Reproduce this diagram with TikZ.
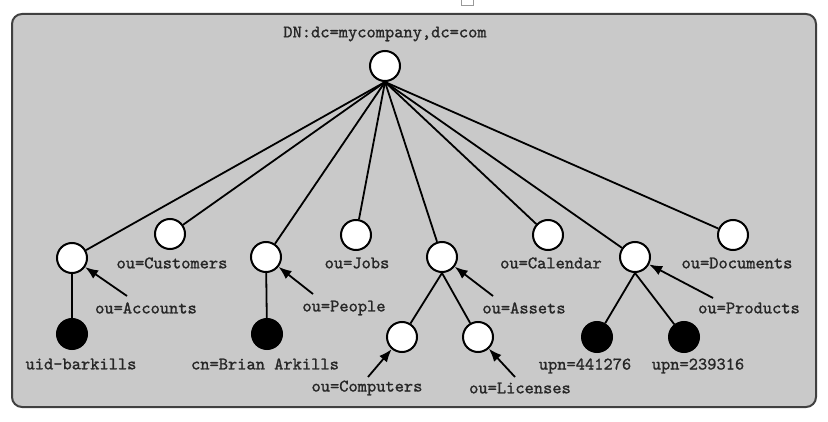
\documentclass[tikz,border=0pt]{standalone}
\usepackage{fontspec}
\newfontfamily\lblfont{lmmono10-regular.otf}[FakeBold=1.2]
\usetikzlibrary{arrows.meta}
\begin{document}
\begin{tikzpicture}[x=1pt,y=-1pt,
  lbl/.style={font=\lblfont\bfseries\fontsize{17.6}{19}\selectfont, text=black!85, inner sep=0pt},
  wnode/.style={circle, draw=black, fill=white, line width=2pt, minimum size=30pt, inner sep=0pt},
  bnode/.style={circle, draw=black, fill=black, line width=2pt, minimum size=30pt, inner sep=0pt},
  edge/.style={line width=1.8pt, black},
  ptr/.style={line width=1.8pt, -{Latex[length=13pt,width=10pt]}}]
\useasboundingbox (0,0) rectangle (828,422);
% small artifact at top
\draw[black!40, fill=white, line width=0.8pt] (461,-2) rectangle (473,5);
% panel
\draw[draw=black!75, fill=black!21, line width=2pt, rounded corners=10pt] (12,14) rectangle (816,407);

% nodes
\node[wnode] (root) at (385,66) {};
\node[lbl] (rootl) at (385,34) {DN:dc=mycompany,dc=com};

\node[wnode] (acc) at (72,258) {};
\node[wnode] (cus) at (170,234) {};
\node[wnode] (peo) at (266,257) {};
\node[wnode] (job) at (356,235) {};
\node[wnode] (ass) at (442,257) {};
\node[wnode] (cal) at (548,235) {};
\node[wnode] (pro) at (635,257) {};
\node[wnode] (doc) at (733,235) {};

\node[bnode] (uid) at (72,334) {};
\node[bnode] (bri) at (267,334) {};
\node[wnode] (com) at (402,337) {};
\node[wnode] (lic) at (478,337) {};
\node[bnode] (u1) at (597,337) {};
\node[bnode] (u2) at (684,337) {};

% labels
\node[lbl] (cusl) at (172,263) {ou=Customers};
\node[lbl] (jobl) at (357,263) {ou=Jobs};
\node[lbl] (call) at (551,263) {ou=Calendar};
\node[lbl] (docl) at (737,263) {ou=Documents};
\node[lbl] (accl) at (146,308) {ou=Accounts};
\node[lbl] (peol) at (344,308) {ou=People};
\node[lbl] (assl) at (524,308) {ou=Assets};
\node[lbl] (prol) at (749,308) {ou=Products};
\node[lbl] (uidl) at (81,364) {uid-barkills};
\node[lbl] (bril) at (265,364) {cn=Brian Arkills};
\node[lbl] (u1l) at (585,366) {upn=441276};
\node[lbl] (u2l) at (698,366) {upn=239316};
\node[lbl] (coml) at (367,388) {ou=Computers};
\node[lbl] (licl) at (520,388) {ou=Licenses};

% edges from root
\foreach \n in {acc,cus,peo,job,ass,cal,pro,doc}
  \draw[edge] (root.south) -- (\n);

% lower edges
\draw[edge] (acc) -- (uid);
\draw[edge] (peo) -- (bri);
\draw[edge] (ass.south) -- (com);
\draw[edge] (ass.south) -- (lic);
\draw[edge] (pro.south) -- (u1);
\draw[edge] (pro.south) -- (u2);

% pointer arrows
\coordinate (aacc) at (127,296);
\coordinate (apeo) at (313,294);
\coordinate (aass) at (493,296);
\coordinate (apro) at (713,298);
\coordinate (acom) at (368,377);
\coordinate (alic) at (515,377);
\draw[ptr] (aacc) -- (acc);
\draw[ptr] (apeo) -- (peo);
\draw[ptr] (aass) -- (ass);
\draw[ptr] (apro) -- (pro);
\draw[ptr] (acom) -- (com);
\draw[ptr] (alic) -- (lic);
\end{tikzpicture}
\end{document}
